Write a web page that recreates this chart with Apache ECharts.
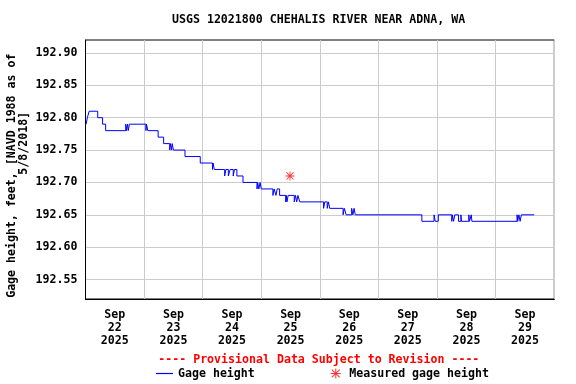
<!DOCTYPE html>
<html>
<head>
<meta charset="utf-8">
<script src="https://cdn.jsdelivr.net/npm/echarts@6/dist/echarts.min.js"></script>
<style>html,body{margin:0;padding:0;background:#fff}#c{width:576px;height:384px}</style>
</head>
<body>
<div id="c"></div>
<script>
// ---- data ----
const titleText = 'USGS 12021800 CHEHALIS RIVER NEAR ADNA, WA';
const yAxisTitle1 = 'Gage height, feet, [NAVD 1988 as of';
const yAxisTitle2 = '5/8/2018]';
const footerText = '---- Provisional Data Subject to Revision ----';

const gageTimes = [
  '2025-09-22 00:15','2025-09-22 00:45','2025-09-22 01:30','2025-09-22 05:00','2025-09-22 07:00','2025-09-22 08:15',
  '2025-09-22 16:30','2025-09-22 16:45','2025-09-22 17:15','2025-09-22 17:30','2025-09-22 18:00',
  '2025-09-23 00:45','2025-09-23 01:00','2025-09-23 01:30','2025-09-23 05:45','2025-09-23 08:00',
  '2025-09-23 10:30','2025-09-23 10:45','2025-09-23 11:15','2025-09-23 11:30','2025-09-23 12:00',
  '2025-09-23 16:45','2025-09-23 23:00',
  '2025-09-24 04:00','2025-09-24 04:15','2025-09-24 04:45',
  '2025-09-24 09:00','2025-09-24 09:30','2025-09-24 10:30','2025-09-24 11:15','2025-09-24 12:30','2025-09-24 13:00','2025-09-24 14:00',
  '2025-09-24 16:30','2025-09-24 22:15','2025-09-24 22:30','2025-09-24 23:00','2025-09-24 23:30',
  '2025-09-25 00:00','2025-09-25 04:45','2025-09-25 05:15','2025-09-25 06:00','2025-09-25 06:30','2025-09-25 07:30',
  '2025-09-25 10:00','2025-09-25 10:15','2025-09-25 10:30','2025-09-25 11:00',
  '2025-09-25 13:30','2025-09-25 14:00','2025-09-25 14:30','2025-09-25 15:00','2025-09-25 15:45',
  '2025-09-26 01:30','2025-09-26 02:00','2025-09-26 03:00','2025-09-26 03:30','2025-09-26 04:00',
  '2025-09-26 09:30','2025-09-26 10:00','2025-09-26 10:45','2025-09-26 13:00','2025-09-26 13:30','2025-09-26 14:00','2025-09-26 14:30',
  '2025-09-27 17:45','2025-09-27 22:45','2025-09-27 23:15',
  '2025-09-28 00:30','2025-09-28 06:00','2025-09-28 06:15','2025-09-28 06:45','2025-09-28 07:15',
  '2025-09-28 08:45','2025-09-28 09:45','2025-09-28 10:00','2025-09-28 13:00','2025-09-28 13:15','2025-09-28 14:00','2025-09-28 14:15',
  '2025-09-29 08:45','2025-09-29 09:00','2025-09-29 09:30','2025-09-29 10:00','2025-09-29 10:30','2025-09-29 15:45'
];
const gageValues = [
  192.79,192.80,192.81,192.80,192.79,192.78,
  192.79,192.78,192.79,192.78,192.79,
  192.78,192.79,192.78,192.77,192.76,
  192.75,192.76,192.75,192.76,192.75,
  192.74,192.73,
  192.72,192.73,192.72,
  192.71,192.72,192.71,192.72,192.71,192.72,192.71,
  192.70,192.69,192.70,192.69,192.70,
  192.69,192.68,192.69,192.68,192.69,192.68,
  192.67,192.68,192.67,192.68,
  192.67,192.68,192.67,192.68,192.67,
  192.66,192.67,192.66,192.67,192.66,
  192.65,192.66,192.65,192.66,192.65,192.66,192.65,
  192.64,192.65,192.64,
  192.65,192.64,192.65,192.64,192.65,
  192.64,192.65,192.64,192.65,192.64,192.65,192.64,
  192.65,192.64,192.65,192.64,192.65,192.65
];

const measuredTimes = ['2025-09-25 11:45'];
const measuredValues = [192.71];

const xStart = '2025-09-22 00:00';
const xEnd = '2025-09-30 00:00';
const dayBoundaries = ['2025-09-22 00:00','2025-09-23 00:00','2025-09-24 00:00','2025-09-25 00:00','2025-09-26 00:00','2025-09-27 00:00','2025-09-28 00:00','2025-09-29 00:00','2025-09-30 00:00'];
const xLabelTimes = ['2025-09-22 12:00','2025-09-23 12:00','2025-09-24 12:00','2025-09-25 12:00','2025-09-26 12:00','2025-09-27 12:00','2025-09-28 12:00','2025-09-29 12:00'];
const xTickLabels = ['Sep\n22\n2025','Sep\n23\n2025','Sep\n24\n2025','Sep\n25\n2025','Sep\n26\n2025','Sep\n27\n2025','Sep\n28\n2025','Sep\n29\n2025'];

const yMin = 192.52, yMax = 192.92;
const yTickValues = [192.55,192.60,192.65,192.70,192.75,192.80,192.85,192.90];

// ---- helpers ----
function toMs(s){
  const p = s.split(' '); const d = p[0].split('-').map(Number); const t = p[1].split(':').map(Number);
  return Date.UTC(d[0], d[1]-1, d[2], t[0], t[1]);
}
const FONT = '"DejaVu Sans Mono", "Liberation Mono", monospace';
const FS = 11.6;

const gageData = gageTimes.map((t,i)=>[toMs(t), gageValues[i]]);
const measuredData = measuredTimes.map((t,i)=>[toMs(t), measuredValues[i]]);
const labelMs = xLabelTimes.map(toMs);

const asterisk = 'path://M0,4.5H10V5.5H0Z M4.5,0H5.5V10H4.5Z M0.7,1.4L1.4,0.7L9.3,8.6L8.6,9.3Z M8.6,0.7L9.3,1.4L1.4,9.3L0.7,8.6Z';
const lineIcon = 'path://M0,0H17V1.2H0Z';

const chart = echarts.init(document.getElementById('c'), null, {renderer:'canvas', width:576, height:384});
chart.setOption({
  animation: false,
  backgroundColor: '#ffffff',
  title: {
    text: titleText, left: 167, top: 9,
    textStyle: {fontFamily: FONT, fontSize: FS, fontWeight: 'bold', color: '#000'}
  },
  grid: {left: 85.5, right: 21.7, top: 40, bottom: 85, show: true, borderColor: '#000', borderWidth: 1, backgroundColor: 'transparent'},
  legend: {
    left: 156, top: 367.5, padding: 0, itemGap: 76, itemWidth: 17, itemHeight: 10,
    symbolKeepAspect: true,
    textStyle: {fontFamily: FONT, fontSize: FS, fontWeight: 'bold', color: '#000'},
    data: [
      {name: 'Gage height', icon: lineIcon,
       itemStyle: {color: '#0000ff', borderColor: '#0000ff', borderWidth: 0},
       lineStyle: {color: '#0000ff', width: 0}},
      {name: 'Measured gage height', itemStyle: {color: '#ff0000', borderWidth: 0}}
    ]
  },
  xAxis: {
    type: 'value', min: toMs(xStart), max: toMs(xEnd),
    axisLine: {show: true, onZero: false, lineStyle: {color: '#000', width: 1}},
    axisTick: {show: false, customValues: dayBoundaries.map(toMs)},
    splitLine: {show: true, lineStyle: {color: '#cccccc', width: 1}},
    axisLabel: {
      customValues: labelMs, margin: 9, lineHeight: 13,
      fontFamily: FONT, fontSize: FS, fontWeight: 'bold', color: '#000', align: 'center',
      formatter: function(v){ const i = labelMs.indexOf(v); return i >= 0 ? xTickLabels[i] : ''; }
    }
  },
  yAxis: {
    type: 'value', min: yMin, max: yMax,
    axisLine: {show: true, onZero: false, lineStyle: {color: '#000', width: 1}},
    axisTick: {show: false, customValues: yTickValues},
    splitLine: {show: true, lineStyle: {color: '#cccccc', width: 1}},
    axisLabel: {
      customValues: yTickValues, margin: 8,
      fontFamily: FONT, fontSize: FS, fontWeight: 'bold', color: '#000',
      formatter: function(v){ return Number(v).toFixed(2); }
    }
  },
  graphic: [
    {type: 'text', x: 11.5, y: 175.7, rotation: Math.PI/2,
     style: {text: yAxisTitle1, fill: '#000', font: 'bold ' + FS + 'px ' + FONT, textAlign: 'center', textVerticalAlign: 'middle'}},
    {type: 'text', x: 23.5, y: 143.3, rotation: Math.PI/2,
     style: {text: yAxisTitle2, fill: '#000', font: 'bold ' + FS + 'px ' + FONT, textAlign: 'center', textVerticalAlign: 'middle'}},
    {type: 'text', x: 318.8, y: 359.5,
     style: {text: footerText, fill: '#ff0000', font: 'bold ' + FS + 'px ' + FONT, textAlign: 'center', textVerticalAlign: 'middle'}}
  ],
  series: [
    {
      name: 'Gage height', type: 'line', data: gageData, step: 'end',
      symbol: 'none', showSymbol: false,
      lineStyle: {color: '#0000ff', width: 1}, itemStyle: {color: '#0000ff'},
      z: 3
    },
    {
      name: 'Measured gage height', type: 'scatter', data: measuredData,
      symbol: asterisk, symbolSize: 9, symbolKeepAspect: true,
      itemStyle: {color: '#ff0000'}, z: 4
    }
  ]
});
</script>
</body>
</html>
